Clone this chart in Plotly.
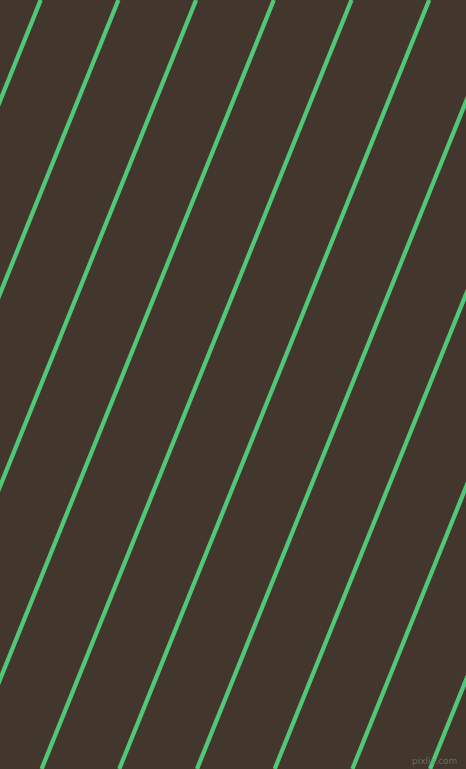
import plotly.graph_objects as go

# Pattern data: diagonal stripes, given by where each line meets the top edge (y=0)
line_top_x = [40.7, 118.4, 196.1, 273.8, 351.5, 429.2, 506.9, 584.6, 662.3, 740.0]
run_per_px_down = 0.403  # x shift leftwards per pixel downwards
canvas_w = 466
canvas_h = 769

bg_color = "#43362C"
line_color = "#50C878"

xs, ys = [], []
for x0 in line_top_x:
    xs += [x0, x0 - run_per_px_down * canvas_h, None]
    ys += [0, canvas_h, None]

fig = go.Figure()
fig.add_trace(go.Scatter(x=xs, y=ys, mode="lines",
                         line=dict(color=line_color, width=4.3),
                         hoverinfo="skip", showlegend=False))

fig.add_annotation(x=459, y=761, xref="x", yref="y", text="pixlis.com",
                   showarrow=False, xanchor="right", yanchor="middle",
                   font=dict(family="DejaVu Sans", size=9, color="rgba(110,135,100,0.75)"))

fig.update_layout(
    width=canvas_w, height=canvas_h,
    margin=dict(l=0, r=0, t=0, b=0),
    paper_bgcolor=bg_color, plot_bgcolor=bg_color,
    xaxis=dict(range=[0, canvas_w], visible=False, fixedrange=True),
    yaxis=dict(range=[canvas_h, 0], visible=False, fixedrange=True),
)
fig.write_html(
    "out.html",
    config={"displayModeBar": False},
    post_script="document.body.style.margin='0';document.body.style.padding='0';"
                "document.body.style.overflow='hidden';"
                "document.body.style.background='" + bg_color + "';",
)
